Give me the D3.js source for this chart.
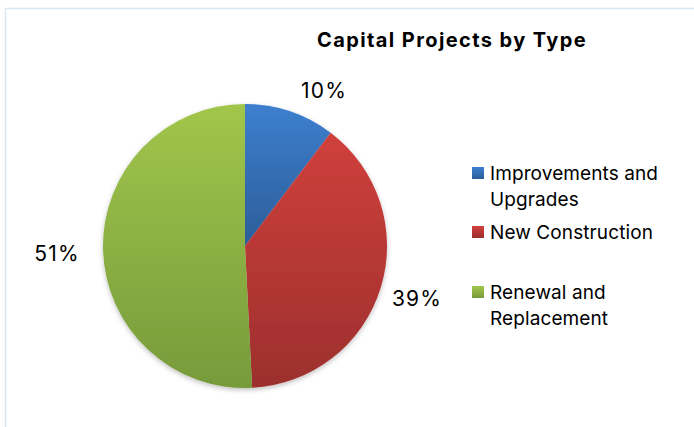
<!DOCTYPE html>
<html><head><meta charset="utf-8">
<script src="https://cdn.jsdelivr.net/npm/d3@7"></script>
<style>body{margin:0;background:#fff}svg{display:block}text{font-family:Inter,sans-serif;fill:#000}</style>
</head><body>
<svg id="c" width="694" height="427"></svg>
<script>
const categories = ["Improvements and Upgrades", "New Construction", "Renewal and Replacement"];
const legendLines = [["Improvements and", "Upgrades"], ["New Construction"], ["Renewal and", "Replacement"]];
const values = [10.3, 38.9, 50.8];
const pctLabels = ["10%", "39%", "51%"];
const title = "Capital Projects by Type";
const colorsTop = ["#3d7fcf", "#d0403c", "#a1c64b"];
const colorsBot = ["#2c5d98", "#9c2f2d", "#779a3b"];

const svg = d3.select("#c");
svg.append("path").attr("d","M5.5,427 V8.5 H694").attr("fill","none").attr("stroke","#dbe6f3").attr("stroke-width",1.5);

const defs = svg.append("defs");
const f = defs.append("filter").attr("id","sh").attr("x","-20%").attr("y","-20%").attr("width","140%").attr("height","140%");
f.append("feDropShadow").attr("dx",0).attr("dy",2).attr("stdDeviation",2.5).attr("flood-color","#000").attr("flood-opacity",0.25);

const cx = 245, cy = 246, r = 142;
const pie = d3.pie().sort(null).value(d => d)(values);
const arc = d3.arc().innerRadius(0).outerRadius(r);

pie.forEach((p,i) => {
  const g = defs.append("linearGradient").attr("id","g"+i).attr("x1",0).attr("y1",0).attr("x2",0).attr("y2",1);
  g.append("stop").attr("offset","0%").attr("stop-color",colorsTop[i]);
  g.append("stop").attr("offset","100%").attr("stop-color",colorsBot[i]);
});

const gp = svg.append("g").attr("transform",`translate(${cx},${cy})`).attr("filter","url(#sh)");
gp.selectAll("path").data(pie).join("path")
  .attr("d", arc).attr("fill",(d,i)=>`url(#g${i})`);

const labelPos = [[324, 90], [417, 298], [57, 253]];
svg.selectAll("text.pct").data(pie).join("text").attr("class","pct")
  .attr("x",(d,i)=>labelPos[i][0]).attr("y",(d,i)=>labelPos[i][1])
  .attr("text-anchor","middle").attr("dominant-baseline","central")
  .attr("font-size",21).attr("letter-spacing",1.2).text((d,i)=>pctLabels[i]);

svg.append("text").attr("x",452).attr("y",40).attr("text-anchor","middle").attr("dominant-baseline","central")
  .attr("font-size",20).attr("font-weight","bold").attr("letter-spacing",1.4).text(title);

const legY = [173, 232, 292];
const lg = svg.append("g");
categories.forEach((c,i) => {
  lg.append("rect").attr("x",472).attr("y",legY[i]-6).attr("width",12).attr("height",12).attr("fill",`url(#g${i})`);
  legendLines[i].forEach((t,j) => {
    lg.append("text").attr("x",490).attr("y",legY[i]+j*26).attr("dominant-baseline","central")
      .attr("font-size",19).attr("letter-spacing",0.1).text(t);
  });
});
</script>
</body></html>
